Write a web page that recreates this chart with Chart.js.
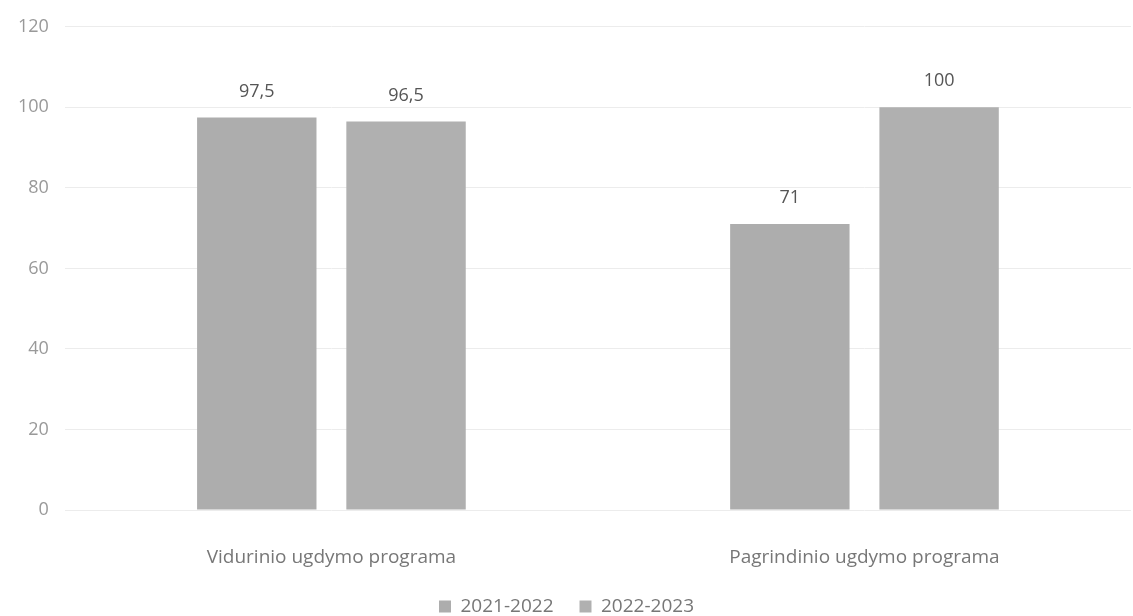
<!DOCTYPE html>
<html>
<head>
<meta charset="utf-8">
<script src="https://cdn.jsdelivr.net/npm/chart.js@4"></script>
<style>
  html, body { margin: 0; padding: 0; background: #fff; }
  #wrap { width: 1133px; height: 616px; }
</style>
</head>
<body>
<div id="wrap"><canvas id="c" width="1133" height="616"></canvas></div>
<script>
const categories = ['Vidurinio ugdymo programa', 'Pagrindinio ugdymo programa'];
const seriesLabels = ['2021-2022', '2022-2023'];
const values2021 = [97.5, 71];
const values2022 = [96.5, 100];

// value labels above bars, comma as decimal separator
const barLabels = {
  id: 'barLabels',
  afterDatasetsDraw(chart) {
    const ctx = chart.ctx;
    ctx.save();
    ctx.font = '18px "Open Sans", sans-serif';
    ctx.fillStyle = '#555';
    ctx.textAlign = 'center';
    ctx.textBaseline = 'bottom';
    chart.data.datasets.forEach((ds, i) => {
      chart.getDatasetMeta(i).data.forEach((bar, j) => {
        ctx.fillText(String(ds.data[j]).replace('.', ','), bar.x, bar.y - 17);
      });
    });
    ctx.restore();
  }
};

// wide gap between legend items without a tall legend box
const legendFit = {
  id: 'legendFit',
  beforeInit(chart) {
    const fit = chart.legend.fit;
    chart.legend.fit = function () {
      fit.call(this);
      this.height = 45;
    };
  }
};

new Chart(document.getElementById('c'), {
  type: 'bar',
  data: {
    labels: categories,
    datasets: [
      { label: seriesLabels[0], data: values2021, backgroundColor: '#adadad' },
      { label: seriesLabels[1], data: values2022, backgroundColor: '#b0b0b0' }
    ]
  },
  options: {
    responsive: false,
    animation: false,
    layout: { padding: { top: 2, right: 2, left: 2, bottom: 0 } },
    datasets: { bar: { categoryPercentage: 0.56, barPercentage: 0.8 } },
    scales: {
      y: {
        min: 0, max: 120,
        ticks: { stepSize: 20, color: '#999', padding: 16, font: { size: 18, family: '"Open Sans", sans-serif' } },
        grid: { color: '#ececec', drawTicks: false },
        border: { display: false }
      },
      x: {
        ticks: { color: '#777', padding: 28, font: { size: 19, family: '"Open Sans", sans-serif' } },
        grid: { display: false },
        border: { display: false },
        afterFit(scale) { scale.height = 61; }
      }
    },
    plugins: {
      legend: {
        position: 'bottom',
        labels: { boxWidth: 12, boxHeight: 12, color: '#777', padding: 26, font: { size: 19, family: '"Open Sans", sans-serif' } }
      },
      tooltip: { enabled: false }
    }
  },
  plugins: [barLabels, legendFit]
});
</script>
</body>
</html>
